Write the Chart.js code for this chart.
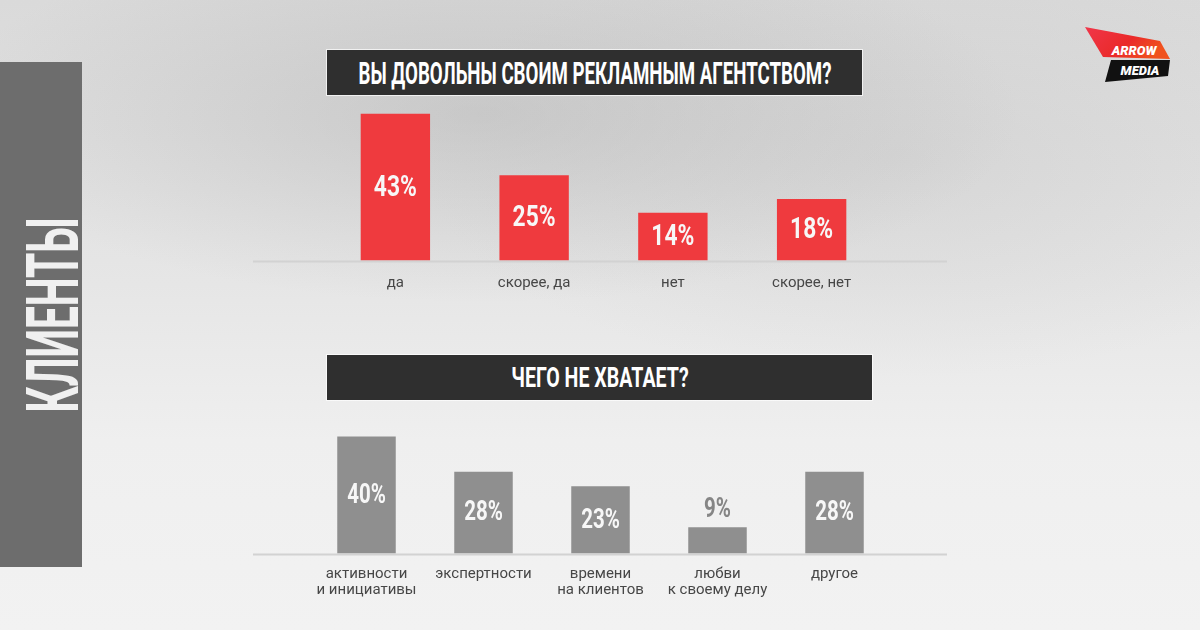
<!DOCTYPE html>
<html>
<head>
<meta charset="utf-8">
<script src="https://cdn.jsdelivr.net/npm/chart.js@4"></script>
<style>
  html, body { margin: 0; padding: 0; }
  body {
    width: 1200px; height: 630px; overflow: hidden; position: relative;
    font-family: Roboto, sans-serif;
    background:
      radial-gradient(ellipse 45% 30% at 40% 18%, rgba(160,160,160,0.35), rgba(160,160,160,0) 100%),
      radial-gradient(ellipse 40% 35% at 75% 25%, rgba(180,180,180,0.25), rgba(180,180,180,0) 100%),
      linear-gradient(#dadada, #e6e6e6 45%, #efefef 70%, #f2f2f2);
  }
  .side { position: absolute; left: 0; top: 62px; width: 82px; height: 505px; background: #6d6d6d; }
  .side-text {
    position: absolute; left: 53px; top: 315px; white-space: nowrap;
    font: 700 73px/1 Roboto, sans-serif; color: #f0f0f0;
  }
  .title-box {
    position: absolute; background: #2f2f2f; outline: 1px solid rgba(255,255,255,0.7);
  }
  .title-text {
    position: absolute; left: 50%; top: 50%; white-space: nowrap;
    font-weight: 700; color: #fff; line-height: 1;
  }
  canvas { position: absolute; }
  #logo { position: absolute; left: 0; top: 0; }
</style>
</head>
<body>
<div class="side"></div>
<div class="side-text" id="sideText">КЛИЕНТЫ</div>

<div class="title-box" style="left:327px; top:50px; width:535px; height:45px;">
  <div class="title-text" id="t1" style="font-size:31px;">ВЫ ДОВОЛЬНЫ СВОИМ РЕКЛАМНЫМ АГЕНТСТВОМ?</div>
</div>
<div class="title-box" style="left:327px; top:355px; width:545px; height:45px;">
  <div class="title-text" id="t2" style="font-size:28px;">ЧЕГО НЕ ХВАТАЕТ?</div>
</div>

<svg id="logo" width="1200" height="100" viewBox="0 0 1200 100">
  <defs>
    <linearGradient id="lg" x1="0" y1="0" x2="1" y2="0.4">
      <stop offset="0" stop-color="#f0364a"/>
      <stop offset="0.6" stop-color="#ea2a2a"/>
      <stop offset="1" stop-color="#f0521e"/>
    </linearGradient>
  </defs>
  <polygon points="1085,27 1160,41 1170,59 1103,57" fill="url(#lg)"/>
  <polygon points="1111,60 1170,60 1168,76 1105,82" fill="#111"/>
  <text x="1134" y="55" text-anchor="middle" font-family="Roboto" font-weight="900" font-style="italic" font-size="13" fill="#fff">ARROW</text>
  <text x="1140" y="75" text-anchor="middle" font-family="Roboto" font-weight="900" font-style="italic" font-size="13" fill="#fff">MEDIA</text>
</svg>

<canvas id="chart1" width="694" height="210" style="left:253px; top:100px; width:694px; height:210px;"></canvas>
<canvas id="chart2" width="694" height="210" style="left:253px; top:410px; width:694px; height:210px;"></canvas>

<script>
// вопрос 1
const q1Labels = ['да', 'скорее, да', 'нет', 'скорее, нет'];
const q1Values = [43, 25, 14, 18];

// вопрос 2
const q2Labels = [['активности', 'и инициативы'], 'экспертности', ['времени', 'на клиентов'], ['любви', 'к своему делу'], 'другое'];
const q2Values = [40, 28, 23, 9, 28];

const redColor = '#ef3a3e';
const grayColor = '#8f8f8f';

// squeeze html text to a given width (no condensed fonts here)
function fitText(el, targetWidth, rotate) {
    const s = targetWidth / el.offsetWidth;
    el.style.transform = 'translate(-50%,-50%)' + (rotate ? ' rotate(-90deg)' : '') + ' scaleX(' + s + ')';
}

const baseLine = {
    id: 'baseLine',
    beforeDatasetsDraw(chart) {
        const ctx = chart.ctx;
        const y = chart.chartArea.bottom + 1;
        ctx.save();
        ctx.strokeStyle = '#d2d2d2';
        ctx.lineWidth = 2;
        ctx.beginPath();
        ctx.moveTo(0, y);
        ctx.lineTo(chart.width, y);
        ctx.stroke();
        ctx.restore();
    }
};

const valueLabels = {
    id: 'valueLabels',
    afterDatasetsDraw(chart, args, opts) {
        const ctx = chart.ctx;
        const meta = chart.getDatasetMeta(0);
        const data = chart.data.datasets[0].data;
        ctx.save();
        ctx.font = '700 ' + opts.size + 'px Roboto';
        ctx.textAlign = 'center';
        ctx.textBaseline = 'middle';
        meta.data.forEach((bar, i) => {
            const h = bar.base - bar.y;
            let y = (bar.y + bar.base) / 2;
            ctx.fillStyle = '#f7f7f7';
            if (h < opts.size * 1.2) {
                y = bar.y - 18;
                ctx.fillStyle = '#858585';
            }
            ctx.save();
            ctx.translate(bar.x, y + 1);
            ctx.scale(0.76, 1);
            ctx.fillText(data[i] + '%', 0, 0);
            ctx.restore();
        });
        ctx.restore();
    }
};

function createChart(id, labels, values, color, padding, labelSize, tickPad, lineH) {
    return new Chart(document.getElementById(id).getContext('2d'), {
        type: 'bar',
        data: {
            labels,
            datasets: [{
                data: values,
                backgroundColor: color,
                borderWidth: 0,
                categoryPercentage: 1,
                barPercentage: 0.5
            }]
        },
        options: {
            responsive: false,
            animation: false,
            layout: { padding },
            plugins: {
                legend: { display: false },
                tooltip: { enabled: false },
                valueLabels: { size: labelSize }
            },
            scales: {
                x: {
                    grid: { display: false, drawTicks: false },
                    border: { display: false },
                    ticks: {
                        color: '#474747',
                        padding: tickPad,
                        maxRotation: 0,
                        autoSkip: false,
                        font: { family: 'Roboto', size: 15, lineHeight: lineH }
                    }
                },
                y: { display: false, min: 0, max: 45 }
            }
        },
        plugins: [baseLine, valueLabels]
    });
}

document.fonts.ready.then(() => {
    fitText(document.getElementById('t1'), 473, false);
    fitText(document.getElementById('t2'), 177, false);
    fitText(document.getElementById('sideText'), 195, true);

    createChart('chart1', q1Labels, q1Values, redColor, { left: 73, right: 66, top: 7, bottom: 5 }, 30, 14, 1.1);
    createChart('chart2', q2Labels, q2Values, grayColor, { left: 55, right: 54, top: 12, bottom: 9 }, 27, 13, 1.05);
});
</script>
</body>
</html>
